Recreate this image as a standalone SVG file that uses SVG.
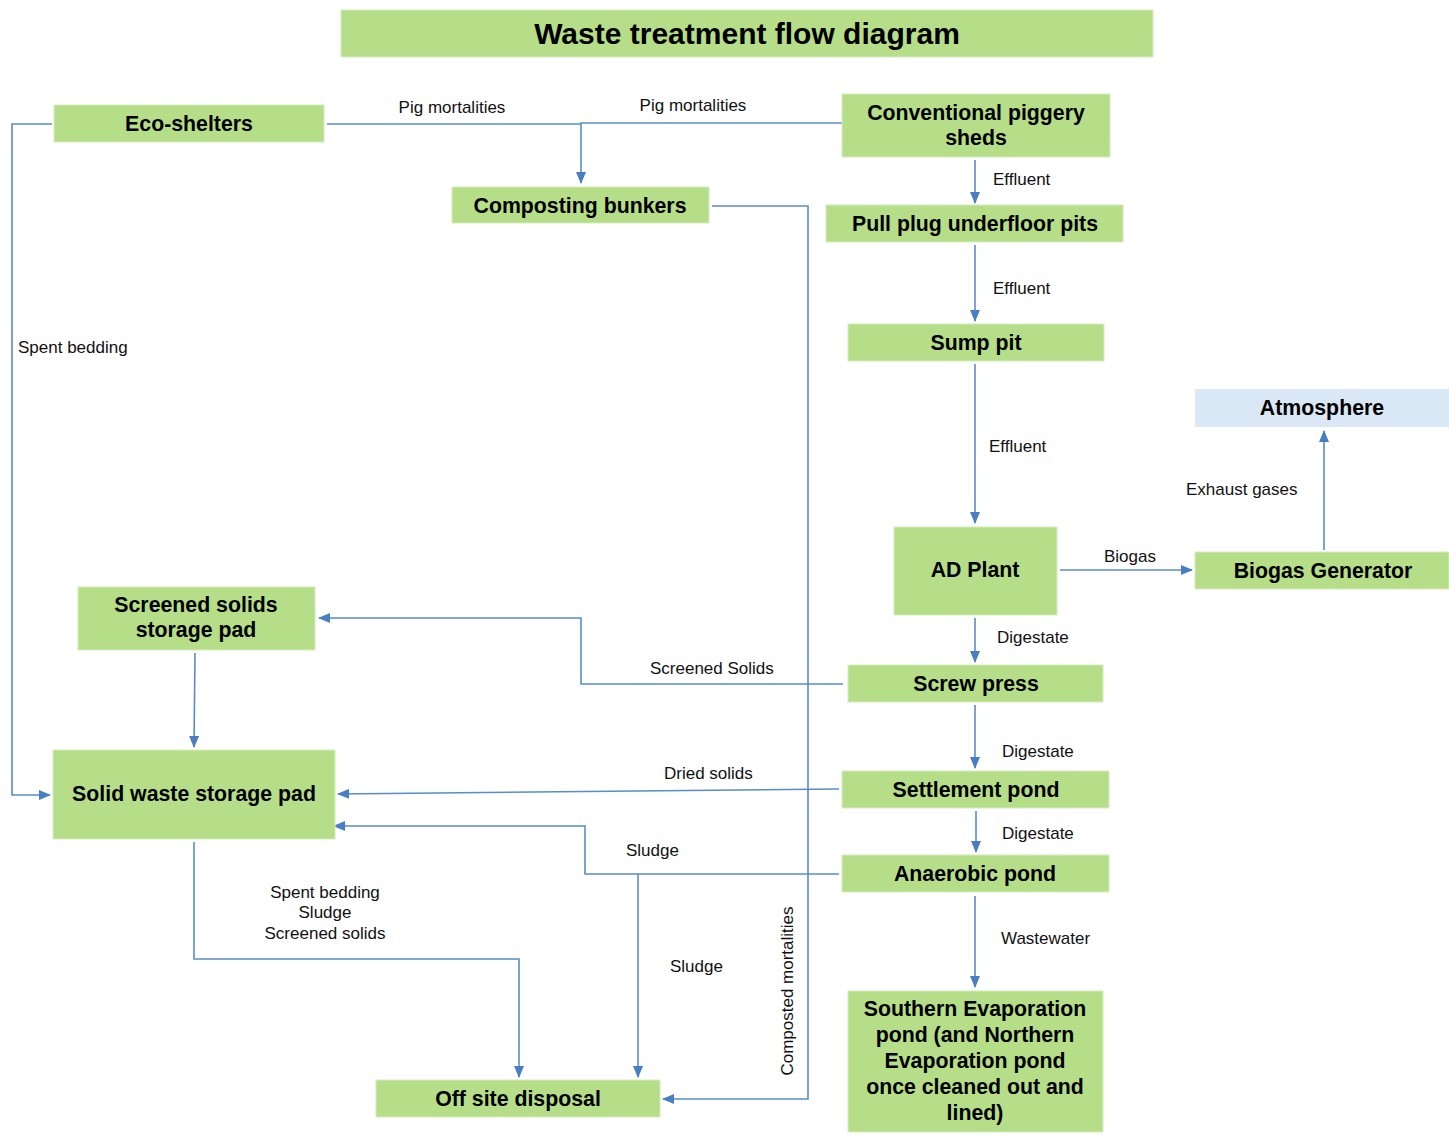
<svg xmlns="http://www.w3.org/2000/svg" width="1449" height="1136" viewBox="0 0 1449 1136">
<style>
.n{fill:#b6de88;stroke:#d4ecbc;stroke-width:1}
.a{fill:#dae8f5;stroke:none}
.t{font-family:"Liberation Sans",Arial,sans-serif;font-weight:bold;font-size:21.3px;fill:#000;text-anchor:middle}
.l{font-family:"Liberation Sans",Arial,sans-serif;font-size:17px;fill:#111}
.c{fill:none;stroke:#5a8cc9;stroke-width:1.6}
</style>
<defs>
<marker id="ar" viewBox="0 0 12 10" refX="11" refY="5" markerWidth="12" markerHeight="10" markerUnits="userSpaceOnUse" orient="auto">
<path d="M0,0 L12,5 L0,10 z" fill="#4a7ec2"/>
</marker>
</defs>
<rect width="1449" height="1136" fill="#fff"/>
<g id="title">
<rect x="341" y="10" width="812" height="47" class="n"/>
<text x="747" y="44" class="t" style="font-size:30px">Waste treatment flow diagram</text>
</g>
<g id="connectors">
<path class="c" d="M327,124 H581"/>
<path class="c" d="M842,123 H581 V183" marker-end="url(#ar)"/>
<path class="c" d="M52,124 H12 V795 H50" marker-end="url(#ar)"/>
<path class="c" d="M712,206 H808 V1099 H663" marker-end="url(#ar)"/>
<path class="c" d="M975,160 V203" marker-end="url(#ar)"/>
<path class="c" d="M975,245 V321" marker-end="url(#ar)"/>
<path class="c" d="M975,364 V523" marker-end="url(#ar)"/>
<path class="c" d="M1060,570 H1192" marker-end="url(#ar)"/>
<path class="c" d="M1324,550 V431" marker-end="url(#ar)"/>
<path class="c" d="M975,618 V662" marker-end="url(#ar)"/>
<path class="c" d="M843,684 H581 V618 H319" marker-end="url(#ar)"/>
<path class="c" d="M195,653 L194,747" marker-end="url(#ar)"/>
<path class="c" d="M975,705 V768" marker-end="url(#ar)"/>
<path class="c" d="M839,789 L338,794" marker-end="url(#ar)"/>
<path class="c" d="M976,811 V852" marker-end="url(#ar)"/>
<path class="c" d="M839,874 H585 V826 H334" marker-end="url(#ar)"/>
<path class="c" d="M638,874 V1077" marker-end="url(#ar)"/>
<path class="c" d="M194,842 V959 H519 V1077" marker-end="url(#ar)"/>
<path class="c" d="M975,896 V987" marker-end="url(#ar)"/>
</g>
<g id="labels">
<text x="452" y="113" class="l" text-anchor="middle">Pig mortalities</text>
<text x="693" y="111" class="l" text-anchor="middle">Pig mortalities</text>
<text x="18" y="353" class="l">Spent bedding</text>
<text x="993" y="185" class="l">Effluent</text>
<text x="993" y="294" class="l">Effluent</text>
<text x="989" y="452" class="l">Effluent</text>
<text x="1104" y="562" class="l">Biogas</text>
<text x="1186" y="495" class="l">Exhaust gases</text>
<text x="997" y="643" class="l">Digestate</text>
<text x="650" y="674" class="l">Screened Solids</text>
<text x="1002" y="757" class="l">Digestate</text>
<text x="664" y="779" class="l">Dried solids</text>
<text x="1002" y="839" class="l">Digestate</text>
<text x="626" y="856" class="l">Sludge</text>
<text x="670" y="972" class="l">Sludge</text>
<text x="1001" y="944" class="l">Wastewater</text>
<text x="325" y="898" class="l" text-anchor="middle">Spent bedding</text>
<text x="325" y="918" class="l" text-anchor="middle">Sludge</text>
<text x="325" y="939" class="l" text-anchor="middle">Screened solids</text>
<text x="0" y="0" class="l" text-anchor="middle" transform="translate(793,991) rotate(-90)">Composted mortalities</text>
</g>
<g id="eco-shelters"><rect x="54" y="105" width="270" height="37" class="n"/><text x="189" y="131" class="t">Eco-shelters</text></g>
<g id="conventional-piggery"><rect x="842" y="94" width="268" height="63" class="n"/><text x="976" y="120" class="t">Conventional piggery</text><text x="976" y="145" class="t">sheds</text></g>
<g id="composting-bunkers"><rect x="452" y="187" width="257" height="36" class="n"/><text x="580" y="213" class="t">Composting bunkers</text></g>
<g id="pull-plug"><rect x="826" y="205" width="297" height="37" class="n"/><text x="975" y="231" class="t">Pull plug underfloor pits</text></g>
<g id="sump-pit"><rect x="848" y="324" width="256" height="37" class="n"/><text x="976" y="350" class="t">Sump pit</text></g>
<g id="atmosphere"><rect x="1195" y="389" width="254" height="38" class="a"/><text x="1322" y="415" class="t">Atmosphere</text></g>
<g id="ad-plant"><rect x="894" y="527" width="163" height="88" class="n"/><text x="975" y="577" class="t">AD Plant</text></g>
<g id="biogas-generator"><rect x="1195" y="552" width="254" height="37" class="n"/><text x="1323" y="578" class="t">Biogas Generator</text></g>
<g id="screened-solids-pad"><rect x="78" y="587" width="237" height="63" class="n"/><text x="196" y="612" class="t">Screened solids</text><text x="196" y="637" class="t">storage pad</text></g>
<g id="screw-press"><rect x="848" y="665" width="255" height="37" class="n"/><text x="976" y="691" class="t">Screw press</text></g>
<g id="solid-waste-pad"><rect x="53" y="750" width="282" height="89" class="n"/><text x="194" y="801" class="t">Solid waste storage pad</text></g>
<g id="settlement-pond"><rect x="842" y="771" width="267" height="37" class="n"/><text x="976" y="797" class="t">Settlement pond</text></g>
<g id="anaerobic-pond"><rect x="842" y="855" width="267" height="37" class="n"/><text x="975" y="881" class="t">Anaerobic pond</text></g>
<g id="evaporation-pond"><rect x="848" y="991" width="255" height="141" class="n"/>
<text x="975" y="1016" class="t">Southern Evaporation</text>
<text x="975" y="1042" class="t">pond (and Northern</text>
<text x="975" y="1068" class="t">Evaporation pond</text>
<text x="975" y="1094" class="t">once cleaned out and</text>
<text x="975" y="1120" class="t">lined)</text></g>
<g id="off-site-disposal"><rect x="376" y="1080" width="284" height="37" class="n"/><text x="518" y="1106" class="t">Off site disposal</text></g>
</svg>
